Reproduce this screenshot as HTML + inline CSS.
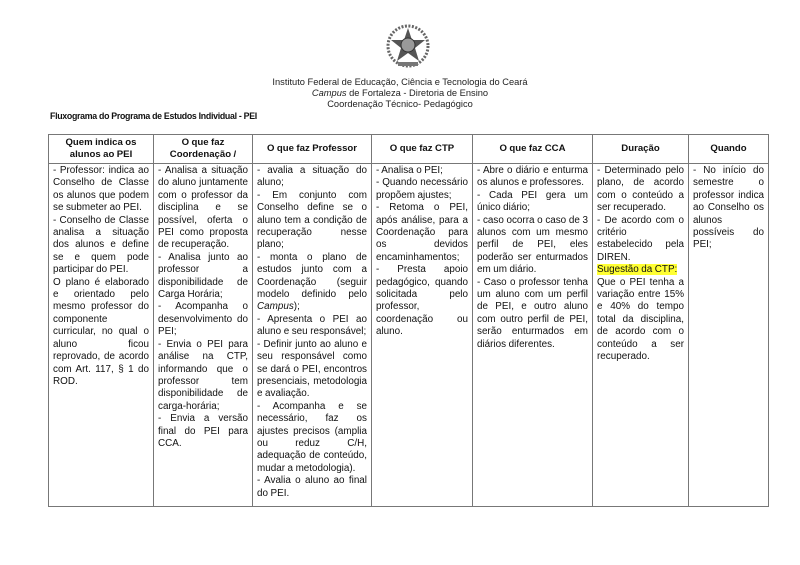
<!DOCTYPE html>
<html><head><meta charset="utf-8"><style>
body{margin:0;width:800px;height:565px;background:#fff;font-family:"Liberation Sans",sans-serif;color:#111;position:relative;overflow:hidden}
.hd{position:absolute;left:0;width:800px;text-align:center;font-size:9.3px;line-height:10.8px;top:77px;color:#222}
.tt{position:absolute;left:50px;top:111px;font-size:8.8px;font-weight:bold;letter-spacing:-0.3px}
table{position:absolute;left:48px;top:134px;border-collapse:collapse;table-layout:fixed;width:720px}
td,th{border:1.3px solid #777;vertical-align:top;padding:1px 4px 0 4px;font-size:9.9px;line-height:12.4px;text-align:justify;letter-spacing:0;word-spacing:-0.2px}
th{font-weight:bold;text-align:center;vertical-align:middle;height:26px;padding:1px 3px;line-height:12.5px;font-size:9.6px}
td div{height:341px;overflow:hidden}
.hl{background:#ffff33}
</style></head><body>
<svg style="position:absolute;left:384px;top:22px" width="48" height="48" viewBox="0 0 48 48">
<circle cx="24" cy="24" r="20" fill="none" stroke="#666" stroke-width="3" stroke-dasharray="2 1.5"/>
<polygon points="24,6 28,18 41,18 31,26 35,39 24,31 13,39 17,26 7,18 20,18" fill="#555"/>
<circle cx="24" cy="23" r="7" fill="#999" stroke="#333"/>
<rect x="14" y="40" width="20" height="4" fill="#777"/>
</svg>
<div class="hd">Instituto Federal de Educação, Ciência e Tecnologia do Ceará<br><i>Campus</i> de Fortaleza - Diretoria de Ensino<br>Coordenação Técnico- Pedagógico</div>
<div class="tt">Fluxograma do Programa de Estudos Individual - PEI</div>
<table>
<colgroup><col style="width:105px"><col style="width:99px"><col style="width:119px"><col style="width:101px"><col style="width:120px"><col style="width:96px"><col style="width:80px"></colgroup>
<tr><th>Quem indica os<br>alunos ao PEI</th><th>O que faz<br>Coordenação /</th><th>O que faz Professor</th><th>O que faz CTP</th><th>O que faz CCA</th><th>Duração</th><th>Quando</th></tr>
<tr>
<td><div>- Professor: indica ao Conselho de Classe os alunos que podem se submeter ao PEI.<br>- Conselho de Classe analisa a situação dos alunos e define se e quem pode participar do PEI.<br>O plano é elaborado e orientado pelo mesmo professor do componente curricular, no qual o aluno ficou reprovado, de acordo com Art. 117, § 1 do ROD.</div></td>
<td><div>- Analisa a situação do aluno juntamente com o professor da disciplina e se possível, oferta o PEI como proposta de recuperação.<br>- Analisa junto ao professor a disponibilidade de Carga Horária;<br>- Acompanha o desenvolvimento do PEI;<br>- Envia o PEI para análise na CTP, informando que o professor tem disponibilidade de carga-horária;<br>- Envia a versão final do PEI para CCA.</div></td>
<td><div>- avalia a situação do aluno;<br>- Em conjunto com Conselho define se o aluno tem a condição de recuperação nesse plano;<br>- monta o plano de estudos junto com a Coordenação (seguir modelo definido pelo <i>Campus</i>);<br>- Apresenta o PEI ao aluno e seu responsável;<br>- Definir junto ao aluno e seu responsável como se dará o PEI, encontros presenciais, metodologia e avaliação.<br>- Acompanha e se necessário, faz os ajustes precisos (amplia ou reduz C/H, adequação de conteúdo, mudar a metodologia).<br>- Avalia o aluno ao final do PEI.</div></td>
<td><div>- Analisa o PEI;<br>- Quando necessário propõem ajustes;<br>- Retoma o PEI, após análise, para a Coordenação para os devidos encaminhamentos;<br>- Presta apoio pedagógico, quando solicitada pelo professor, coordenação ou aluno.</div></td>
<td><div>- Abre o diário e enturma os alunos e professores.<br>- Cada PEI gera um único diário;<br>- caso ocorra o caso de 3 alunos com um mesmo perfil de PEI, eles poderão ser enturmados em um diário.<br>- Caso o professor tenha um aluno com um perfil de PEI, e outro aluno com outro perfil de PEI, serão enturmados em diários diferentes.</div></td>
<td><div>- Determinado pelo plano, de acordo com o conteúdo a ser recuperado.<br>- De acordo com o critério estabelecido pela DIREN.<br><span class="hl">Sugestão da CTP:</span><br>Que o PEI tenha a variação entre 15% e 40% do tempo total da disciplina, de acordo com o conteúdo a ser recuperado.</div></td>
<td><div>- No início do semestre o professor indica ao Conselho os alunos possíveis do PEI;</div></td>
</tr></table>
</body></html>
